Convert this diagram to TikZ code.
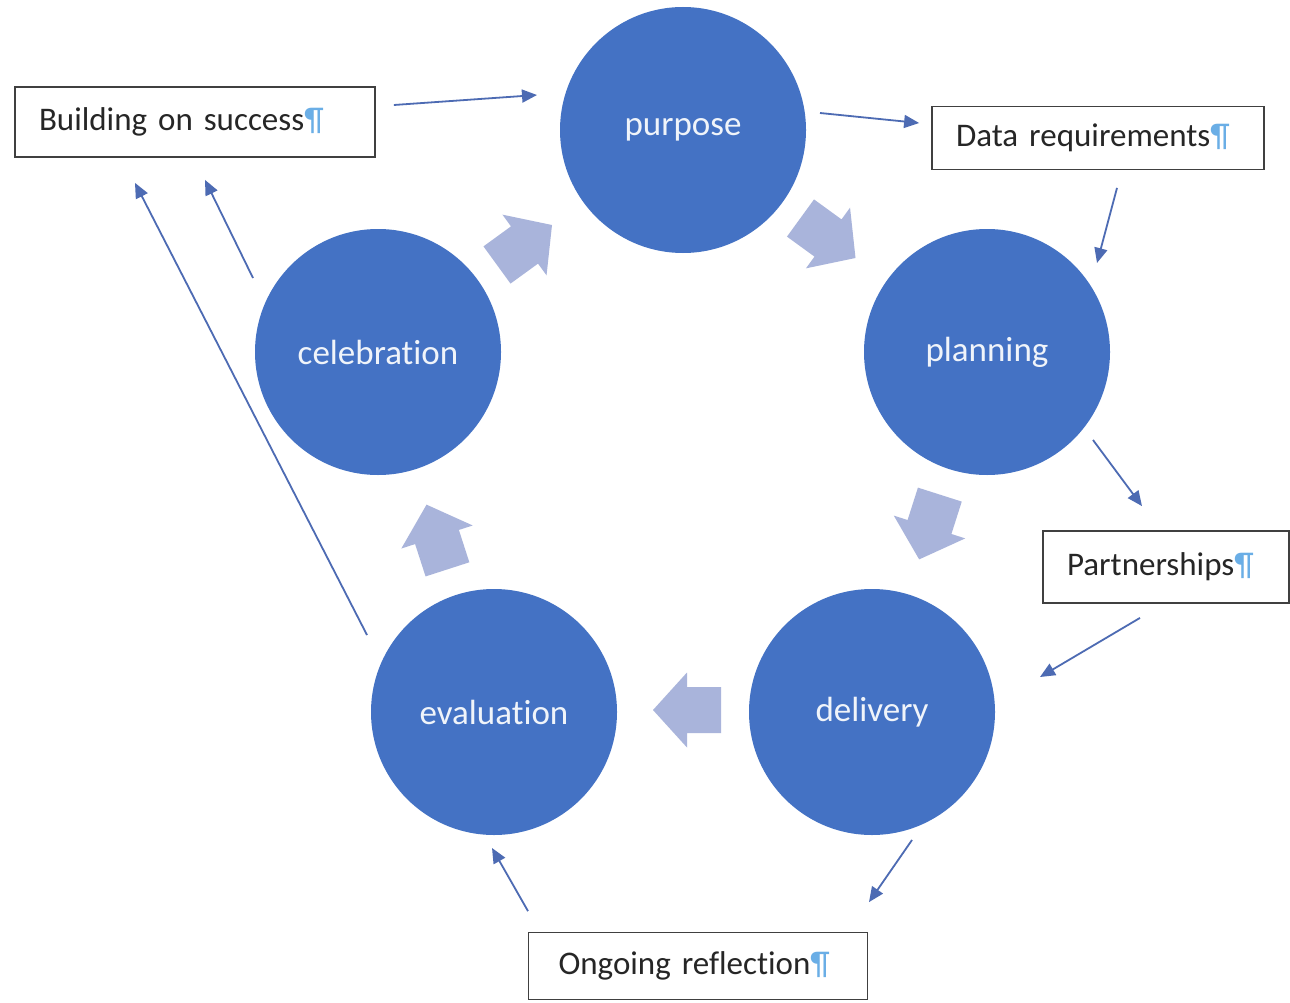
\documentclass[tikz,border=0pt]{standalone}
\usepackage{fontspec}
\setmainfont[WordSpace=0.75,Ligatures=NoCommon]{Carlito}
\usetikzlibrary{calc,arrows.meta}
\definecolor{circblue}{HTML}{4472C4}
\definecolor{blockcol}{HTML}{A9B4DB}
\definecolor{thincol}{HTML}{4D6BB3}
\definecolor{boxline}{HTML}{404040}
\definecolor{pilcol}{HTML}{6AAEE6}
\definecolor{txtcol}{HTML}{262626}
\newcommand{\pil}{\textcolor{pilcol}{¶}}
\newcommand{\lowered}[1]{\raisebox{-4pt}{#1}}
\tikzset{
  stage/.style={circle, fill=circblue, draw=none, minimum size=246pt, inner sep=0pt,
    text=white!92!circblue, font=\fontsize{35}{42}\selectfont},
  labelbox/.style={draw=boxline, line width=1.8pt, fill=white, inner xsep=24pt, inner ysep=0pt,
    align=left, text=txtcol, font=\fontsize{33}{40}\selectfont},
  blockarrow/.style={fill=blockcol, draw=none},
  thinarrow/.style={draw=thincol, line width=1.8pt, -{Triangle[length=15pt,width=13pt]}}
}
\newcommand{\blockshape}{(-34,-23) -- (0,-23) -- (0,-37.5) -- (34,0) -- (0,37.5) -- (0,23) -- (-34,23) -- cycle}
\begin{document}
\begin{tikzpicture}[x=1pt,y=-1pt]
\useasboundingbox (0,0) rectangle (1290,1003);
\fill[white] (0,0) rectangle (1290,1003);

% stages
\node[stage] (purpose) at (683,130) {\lowered{purpose}};
\node[stage] (planning) at (987,352) {\lowered{planning}};
\node[stage] (delivery) at (872,712) {\lowered{delivery}};
\node[stage] (evaluation) at (494,712) {\lowered{evaluation}};
\node[stage] (celebration) at (378,352) {\lowered{celebration}};

% boxes
\node[labelbox, text width=312pt, minimum height=70pt] (build) at (195,122) {\mbox{Building on success\pil}};
\node[labelbox, text width=284pt, minimum height=63pt] (data) at (1098,138) {\mbox{Data requirements\pil}};
\node[labelbox, text width=198pt, minimum height=72pt] (partner) at (1166,567) {\mbox{Partnerships\pil}};
\node[labelbox, inner xsep=30pt, text width=279pt, minimum height=67pt] (ongoing) at (698,966) {\mbox{Ongoing reflection\pil}};

% block arrows between stages
\fill[blockarrow, shift={($(celebration.center)!0.5!(purpose.center)+(-6,4)$)}, rotate=36] \blockshape;
\fill[blockarrow, shift={($(purpose.center)!0.5!(planning.center)+(-7,-3)$)}, rotate=-36] \blockshape;
\fill[blockarrow, shift={($(planning.center)!0.5!(delivery.center)+(0,-5)$)}, rotate=-107.7] \blockshape;
\fill[blockarrow, shift={($(delivery.center)!0.5!(evaluation.center)+(4,-2)$)}, rotate=180] \blockshape;
\fill[blockarrow, shift={($(evaluation.center)!0.5!(celebration.center)+(1,5)$)}, rotate=107.9] \blockshape;

% thin arrows
\draw[thinarrow] ($(build.east)+(18,-17)$) -- ($(purpose.center)+(-146,-35)$);
\draw[thinarrow] ($(purpose.center)+(137,-17)$) -- ($(data.west)+(-12,-15)$);
\draw[thinarrow] ($(data.south)+(19,17.5)$) -- ($(planning.center)+(110,-89)$);
\draw[thinarrow] ($(planning.center)+(106,88)$) -- ($(partner.north)+(-24,-24)$);
\draw[thinarrow] ($(partner.south)+(-26,14)$) -- ($(delivery.center)+(168,-35)$);
\draw[thinarrow] ($(delivery.center)+(40,128)$) -- ($(ongoing.north)+(171,-29.5)$);
\draw[thinarrow] ($(ongoing.north)+(-170,-20.5)$) -- ($(evaluation.center)+(-2,136)$);
\draw[thinarrow] ($(evaluation.center)+(-127,-77)$) -- ($(build.south)+(-60,25)$);
\draw[thinarrow] ($(celebration.center)+(-125,-74)$) -- ($(build.south)+(10,22)$);
\end{tikzpicture}
\end{document}
